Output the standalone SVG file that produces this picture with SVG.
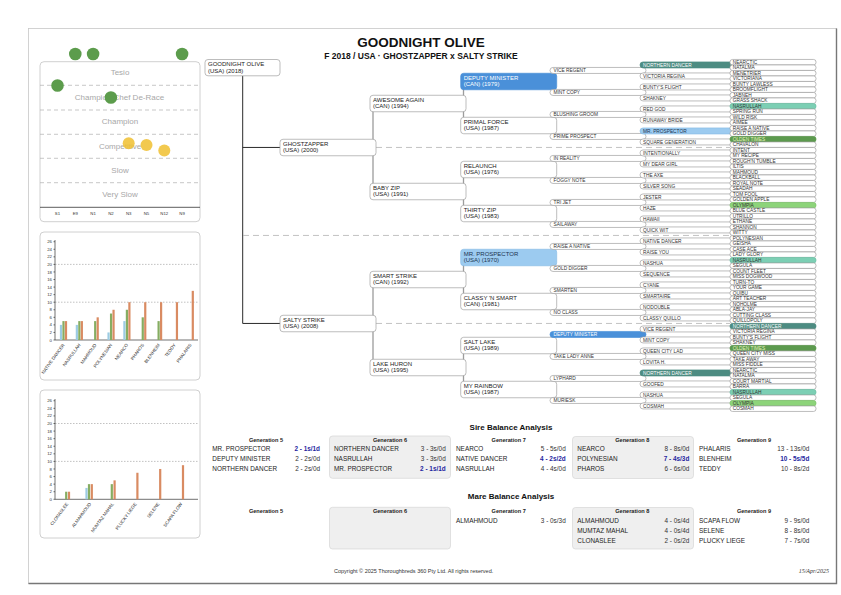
<svg xmlns="http://www.w3.org/2000/svg" width="841" height="595" viewBox="0 0 841 595">
<defs>
<style>
text{font-family:"Liberation Sans",Arial,Helvetica,sans-serif}
.bx{fill:#fff;stroke:#a0a0a0;stroke-width:0.7}
.n{font-size:6px;fill:#222}
.s{font-size:4.8px;fill:#333}
.cn{stroke:#9c9c9c;stroke-width:1.3;fill:none}
.dl{stroke:#b4b4b4;stroke-width:0.8;stroke-dasharray:6 4;fill:none}
.pl{fill:#fff;stroke:#c4c4c4;stroke-width:0.8}
.lb{font-size:8px;fill:#a8a8a8;text-anchor:middle}
.gd{stroke:#b0b0b0;stroke-width:0.7;stroke-dasharray:4 3;fill:none}
.gd2{stroke:#999;stroke-width:0.6;stroke-dasharray:1.5 1.5;fill:none}
.tk{font-size:4.3px;fill:#333}
.tr{font-size:4.3px;fill:#333;text-anchor:end}
.bl{font-size:4.5px;fill:#333;text-anchor:end}
.bb{fill:#9ccbe3}.bg{fill:#86ad62}.bo{fill:#d98b62}
.hd{font-size:5.6px;font-weight:bold;text-anchor:middle;fill:#222}
.e{font-size:6.4px;fill:#222}
.v{font-size:6.4px;fill:#333;text-anchor:end}
.vb{font-weight:bold;fill:#1f1fa0}
.gbox{fill:#efefef;stroke:#d6d6d6;stroke-width:0.7}
.hdm{fill:#4a90d9;stroke:#4a90d9}
.hmp{fill:#9ccbf0;stroke:#8bbde6}
.hnd{fill:#4d8c82;stroke:#4d8c82}
.hna{fill:#7ccfb4;stroke:#6cc0a5}
.hot{fill:#5c9a4e;stroke:#5c9a4e}
.hol{fill:#8dd47a;stroke:#7dc46a}
.tw{fill:#fff}
.tdk{fill:#1d3550}
.tot{fill:#e2f2b8}
</style>
</defs>

<!-- page frame -->
<rect x="28.5" y="28.5" width="808" height="555" fill="none" stroke="#c8c8c8" stroke-width="0.8"/>
<path d="M836.5 28.5 V583.5 H28.5" fill="none" stroke="#777" stroke-width="1.4"/>

<!-- title -->
<text x="421" y="47" font-size="13.5" font-weight="bold" text-anchor="middle" fill="#111">GOODNIGHT OLIVE</text>
<text x="421" y="58.5" font-size="8.5" font-weight="bold" text-anchor="middle" fill="#111">F 2018 / USA · GHOSTZAPPER x SALTY STRIKE</text>

<!-- Panel 1: running style chart -->
<g id="chart-style">
<rect class="pl" x="40" y="61.7" width="160" height="160" rx="4"/>
<path class="gd" d="M40 85.3H200M40 110H200M40 134.3H200M40 158.3H200M40 182.7H200"/>
<path d="M40 207.3H200" stroke="#333" stroke-width="0.8"/>
<text class="lb" x="120" y="75">Tesio</text>
<text class="lb" x="119.5" y="99.8">Champion Chef De-Race</text>
<text class="lb" x="120" y="124">Champion</text>
<text class="lb" x="120" y="148.5">Competitive</text>
<text class="lb" x="120" y="172.8">Slow</text>
<text class="lb" x="120" y="197">Very Slow</text>
<g class="tk" text-anchor="middle">
<text x="57.5" y="214.8">S1</text><text x="75.3" y="214.8">E9</text><text x="93.1" y="214.8">N1</text><text x="110.9" y="214.8">N2</text><text x="128.7" y="214.8">N3</text><text x="146.5" y="214.8">N5</text><text x="164.3" y="214.8">N12</text><text x="182.1" y="214.8">N9</text>
</g>
<g fill="#5c9c4c">
<circle cx="75.3" cy="54" r="6.3"/><circle cx="93.1" cy="54" r="6.3"/><circle cx="182.1" cy="54" r="6.3"/>
<circle cx="57.5" cy="85.5" r="6.3"/><circle cx="110.9" cy="97.5" r="6.3"/>
</g>
<g fill="#f0c030" fill-opacity="0.85">
<circle cx="128.7" cy="143.3" r="6"/><circle cx="146.5" cy="145" r="6"/><circle cx="164.3" cy="150.5" r="6"/>
</g>
</g>

<!-- Panel 2: sire bar chart -->
<g id="chart-sire">
<rect class="pl" x="40" y="232" width="160" height="148" rx="4"/>
<path class="gd2" d="M55 302.2H198M55 264.4H198"/>
<path d="M55 240V340H198M53.5 340H55M53.5 332.44H55M53.5 324.88H55M53.5 317.32H55M53.5 309.76H55M53.5 302.2H55M53.5 294.64H55M53.5 287.08H55M53.5 279.52H55M53.5 271.96H55M53.5 264.4H55M53.5 256.84H55M53.5 249.28H55M53.5 241.72H55" stroke="#333" stroke-width="0.7" fill="none"/>
<g class="tr">
<text x="52" y="341.5">0</text><text x="52" y="333.9">2</text><text x="52" y="326.4">4</text><text x="52" y="318.8">6</text><text x="52" y="311.3">8</text><text x="52" y="303.7">10</text><text x="52" y="296.1">12</text><text x="52" y="288.6">14</text><text x="52" y="281">16</text><text x="52" y="273.5">18</text><text x="52" y="265.9">20</text><text x="52" y="258.3">22</text><text x="52" y="250.8">24</text><text x="52" y="243.2">26</text>
</g>
<rect class="bb" x="59.9" y="324.88" width="2.2" height="15.12"/><rect class="bg" x="62.4" y="321.1" width="2.2" height="18.9"/><rect class="bo" x="64.9" y="321.1" width="2.2" height="18.9"/>
<rect class="bb" x="75.75" y="324.88" width="2.2" height="15.12"/><rect class="bg" x="78.25" y="321.1" width="2.2" height="18.9"/><rect class="bo" x="80.75" y="321.1" width="2.2" height="18.9"/>
<rect class="bg" x="94.1" y="321.1" width="2.2" height="18.9"/><rect class="bo" x="96.6" y="317.32" width="2.2" height="22.68"/>
<rect class="bb" x="107.45" y="332.44" width="2.2" height="7.56"/><rect class="bg" x="109.95" y="313.54" width="2.2" height="26.46"/><rect class="bo" x="112.45" y="309.76" width="2.2" height="30.24"/>
<rect class="bb" x="123.3" y="321.1" width="2.2" height="18.9"/><rect class="bg" x="125.8" y="309.76" width="2.2" height="30.24"/><rect class="bo" x="128.3" y="302.2" width="2.2" height="37.8"/>
<rect class="bg" x="141.65" y="317.32" width="2.2" height="22.68"/><rect class="bo" x="144.15" y="302.2" width="2.2" height="37.8"/>
<rect class="bg" x="157.5" y="321.1" width="2.2" height="18.9"/><rect class="bo" x="160" y="302.2" width="2.2" height="37.8"/>
<rect class="bo" x="175.85" y="302.2" width="2.2" height="37.8"/>
<rect class="bo" x="191.7" y="290.86" width="2.2" height="49.14"/>
<g class="bl">
<text transform="translate(65 345) rotate(-54)">NATIVE DANCER</text>
<text transform="translate(80.8 345) rotate(-54)">NASRULLAH</text>
<text transform="translate(96.7 345) rotate(-54)">MAHMOUD</text>
<text transform="translate(112.5 345) rotate(-54)">POLYNESIAN</text>
<text transform="translate(128.4 345) rotate(-54)">NEARCO</text>
<text transform="translate(144.2 345) rotate(-54)">PHAROS</text>
<text transform="translate(160.1 345) rotate(-54)">BLENHEIM</text>
<text transform="translate(175.9 345) rotate(-54)">TEDDY</text>
<text transform="translate(191.8 345) rotate(-54)">PHALARIS</text>
</g>
</g>

<!-- Panel 3: mare bar chart -->
<g id="chart-mare">
<rect class="pl" x="40" y="390" width="160" height="148" rx="4"/>
<path class="gd2" d="M55 461.4H198M55 423.5H198"/>
<path d="M55 399V499.3H198M53.5 499.3H55M53.5 491.72H55M53.5 484.14H55M53.5 476.56H55M53.5 468.98H55M53.5 461.4H55M53.5 453.82H55M53.5 446.24H55M53.5 438.66H55M53.5 431.08H55M53.5 423.5H55M53.5 415.92H55M53.5 408.34H55M53.5 400.76H55" stroke="#333" stroke-width="0.7" fill="none"/>
<g class="tr">
<text x="52" y="500.8">0</text><text x="52" y="493.2">2</text><text x="52" y="485.6">4</text><text x="52" y="478.1">6</text><text x="52" y="470.5">8</text><text x="52" y="462.9">10</text><text x="52" y="455.3">12</text><text x="52" y="447.7">14</text><text x="52" y="440.2">16</text><text x="52" y="432.6">18</text><text x="52" y="425">20</text><text x="52" y="417.4">22</text><text x="52" y="409.8">24</text><text x="52" y="402.3">26</text>
</g>
<rect class="bg" x="65.1" y="491.72" width="2.2" height="7.58"/><rect class="bo" x="67.9" y="491.72" width="2.2" height="7.58"/>
<rect class="bb" x="85.4" y="487.93" width="2.2" height="11.37"/><rect class="bg" x="87.9" y="484.14" width="2.2" height="15.16"/><rect class="bo" x="90.7" y="484.14" width="2.2" height="15.16"/>
<rect class="bg" x="110.7" y="484.14" width="2.2" height="15.16"/><rect class="bo" x="113.5" y="480.35" width="2.2" height="18.95"/>
<rect class="bo" x="136.3" y="472.77" width="2.2" height="26.53"/>
<rect class="bo" x="159.1" y="468.98" width="2.2" height="30.32"/>
<rect class="bo" x="181.9" y="465.19" width="2.2" height="34.11"/>
<g class="bl">
<text transform="translate(68.5 504) rotate(-54)">CLONASLEE</text>
<text transform="translate(91.3 504) rotate(-54)">ALMAHMOUD</text>
<text transform="translate(114.1 504) rotate(-54)">MUMTAZ MAHAL</text>
<text transform="translate(136.9 504) rotate(-54)">PLUCKY LIEGE</text>
<text transform="translate(159.7 504) rotate(-54)">SELENE</text>
<text transform="translate(182.5 504) rotate(-54)">SCAPA FLOW</text>
</g>
</g>

<!-- connectors -->
<g id="connectors">
<path d="M242.7 75.7V323.45M242.7 147.45H280M242.7 323.45H280" stroke="#2a2a2a" stroke-width="1" fill="none"/>
<path class="dl" d="M243 235.45H730M376 147.45H730M376 323.45H730"/>
<path class="cn" d="M373 103.45V191.45M373 279.45V367.45"/>
<path class="cn" d="M463.5 81.45V125.45M463.5 169.45V213.45M463.5 257.45V301.45M463.5 345.45V389.45"/>
<path class="cn" d="M553 70.45V92.45M553 114.45V136.45M553 158.45V180.45M553 202.45V224.45M553 246.45V268.45M553 290.45V312.45M553 334.45V356.45M553 378.45V400.45"/>
<path class="cn" d="M643 64.95V75.95M643 86.95V97.95M643 108.95V119.95M643 130.95V141.95M643 152.95V163.95M643 174.95V185.95M643 196.95V207.95M643 218.95V229.95M643 240.95V251.95M643 262.95V273.95M643 284.95V295.95M643 306.95V317.95M643 328.95V339.95M643 350.95V361.95M643 372.95V383.95M643 394.95V405.95"/>
</g>

<!-- generation 0 -->
<g id="n-goodnight-olive" transform="translate(205 59.5)"><rect class="bx" width="75" height="16.3" rx="3"/><text class="n" x="3" y="6.3" font-size="5.8">GOODNIGHT OLIVE</text><text class="n" x="3" y="13.2" font-size="5.8">(USA) (2018)</text></g>

<!-- generation 1 -->
<g id="n-ghostzapper" transform="translate(280 139.25)"><rect class="bx" width="96" height="16.5" rx="3"/><text class="n" x="3" y="6.3">GHOSTZAPPER</text><text class="n" x="3" y="13.2">(USA) (2000)</text></g>
<g id="n-salty-strike" transform="translate(280 315.25)"><rect class="bx" width="96" height="16.5" rx="3"/><text class="n" x="3" y="6.3">SALTY STRIKE</text><text class="n" x="3" y="13.2">(USA) (2008)</text></g>

<!-- generation 2 -->
<g id="n-awesome-again" transform="translate(370 95.25)"><rect class="bx" width="96" height="16.5" rx="3"/><text class="n" x="3" y="6.3">AWESOME AGAIN</text><text class="n" x="3" y="13.2">(CAN) (1994)</text></g>
<g id="n-baby-zip" transform="translate(370 183.25)"><rect class="bx" width="96" height="16.5" rx="3"/><text class="n" x="3" y="6.3">BABY ZIP</text><text class="n" x="3" y="13.2">(USA) (1991)</text></g>
<g id="n-smart-strike" transform="translate(370 271.25)"><rect class="bx" width="96" height="16.5" rx="3"/><text class="n" x="3" y="6.3">SMART STRIKE</text><text class="n" x="3" y="13.2">(CAN) (1992)</text></g>
<g id="n-lake-huron" transform="translate(370 359.25)"><rect class="bx" width="96" height="16.5" rx="3"/><text class="n" x="3" y="6.3">LAKE HURON</text><text class="n" x="3" y="13.2">(USA) (1995)</text></g>

<!-- generation 3 -->
<g id="n-deputy-minister" transform="translate(460.7 73.25)"><rect class="bx hdm" width="96" height="16.5" rx="3"/><text class="n tw" x="3" y="6.3">DEPUTY MINISTER</text><text class="n tw" x="3" y="13.2">(CAN) (1979)</text></g>
<g id="n-primal-force" transform="translate(460.7 117.25)"><rect class="bx" width="96" height="16.5" rx="3"/><text class="n" x="3" y="6.3">PRIMAL FORCE</text><text class="n" x="3" y="13.2">(USA) (1987)</text></g>
<g id="n-relaunch" transform="translate(460.7 161.25)"><rect class="bx" width="96" height="16.5" rx="3"/><text class="n" x="3" y="6.3">RELAUNCH</text><text class="n" x="3" y="13.2">(USA) (1976)</text></g>
<g id="n-thirty-zip" transform="translate(460.7 205.25)"><rect class="bx" width="96" height="16.5" rx="3"/><text class="n" x="3" y="6.3">THIRTY ZIP</text><text class="n" x="3" y="13.2">(USA) (1983)</text></g>
<g id="n-mr-prospector" transform="translate(460.7 249.25)"><rect class="bx hmp" width="96" height="16.5" rx="3"/><text class="n tdk" x="3" y="6.3">MR. PROSPECTOR</text><text class="n tdk" x="3" y="13.2">(USA) (1970)</text></g>
<g id="n-classy-n-smart" transform="translate(460.7 293.25)"><rect class="bx" width="96" height="16.5" rx="3"/><text class="n" x="3" y="6.3">CLASSY 'N SMART</text><text class="n" x="3" y="13.2">(CAN) (1981)</text></g>
<g id="n-salt-lake" transform="translate(460.7 337.25)"><rect class="bx" width="96" height="16.5" rx="3"/><text class="n" x="3" y="6.3">SALT LAKE</text><text class="n" x="3" y="13.2">(USA) (1989)</text></g>
<g id="n-my-rainbow" transform="translate(460.7 381.25)"><rect class="bx" width="96" height="16.5" rx="3"/><text class="n" x="3" y="6.3">MY RAINBOW</text><text class="n" x="3" y="13.2">(USA) (1987)</text></g>

<!-- generation 4 -->
<g id="g4-00" transform="translate(550 67.45)"><rect class="bx" width="96" height="6" rx="3"/><text class="s" x="3.5" y="4.7">VICE REGENT</text></g>
<g id="g4-01" transform="translate(550 89.45)"><rect class="bx" width="96" height="6" rx="3"/><text class="s" x="3.5" y="4.7">MINT COPY</text></g>
<g id="g4-02" transform="translate(550 111.45)"><rect class="bx" width="96" height="6" rx="3"/><text class="s" x="3.5" y="4.7">BLUSHING GROOM</text></g>
<g id="g4-03" transform="translate(550 133.45)"><rect class="bx" width="96" height="6" rx="3"/><text class="s" x="3.5" y="4.7">PRIME PROSPECT</text></g>
<g id="g4-04" transform="translate(550 155.45)"><rect class="bx" width="96" height="6" rx="3"/><text class="s" x="3.5" y="4.7">IN REALITY</text></g>
<g id="g4-05" transform="translate(550 177.45)"><rect class="bx" width="96" height="6" rx="3"/><text class="s" x="3.5" y="4.7">FOGGY NOTE</text></g>
<g id="g4-06" transform="translate(550 199.45)"><rect class="bx" width="96" height="6" rx="3"/><text class="s" x="3.5" y="4.7">TRI JET</text></g>
<g id="g4-07" transform="translate(550 221.45)"><rect class="bx" width="96" height="6" rx="3"/><text class="s" x="3.5" y="4.7">SAILAWAY</text></g>
<g id="g4-08" transform="translate(550 243.45)"><rect class="bx" width="96" height="6" rx="3"/><text class="s" x="3.5" y="4.7">RAISE A NATIVE</text></g>
<g id="g4-09" transform="translate(550 265.45)"><rect class="bx" width="96" height="6" rx="3"/><text class="s" x="3.5" y="4.7">GOLD DIGGER</text></g>
<g id="g4-10" transform="translate(550 287.45)"><rect class="bx" width="96" height="6" rx="3"/><text class="s" x="3.5" y="4.7">SMARTEN</text></g>
<g id="g4-11" transform="translate(550 309.45)"><rect class="bx" width="96" height="6" rx="3"/><text class="s" x="3.5" y="4.7">NO CLASS</text></g>
<g id="g4-12" transform="translate(550 331.45)"><rect class="bx hdm" width="96" height="6" rx="3"/><text class="s tw" x="3.5" y="4.7">DEPUTY MINISTER</text></g>
<g id="g4-13" transform="translate(550 353.45)"><rect class="bx" width="96" height="6" rx="3"/><text class="s" x="3.5" y="4.7">TAKE LADY ANNE</text></g>
<g id="g4-14" transform="translate(550 375.45)"><rect class="bx" width="96" height="6" rx="3"/><text class="s" x="3.5" y="4.7">LYPHARD</text></g>
<g id="g4-15" transform="translate(550 397.45)"><rect class="bx" width="96" height="6" rx="3"/><text class="s" x="3.5" y="4.7">MURIESK</text></g>

<!-- generation 5 -->
<g id="g5-00" transform="translate(640 61.95)"><rect class="bx hnd" width="96" height="6" rx="3"/><text class="s tw" x="3" y="4.7">NORTHERN DANCER</text></g>
<g id="g5-01" transform="translate(640 72.95)"><rect class="bx" width="96" height="6" rx="3"/><text class="s" x="3" y="4.7">VICTORIA REGINA</text></g>
<g id="g5-02" transform="translate(640 83.95)"><rect class="bx" width="96" height="6" rx="3"/><text class="s" x="3" y="4.7">BUNTY'S FLIGHT</text></g>
<g id="g5-03" transform="translate(640 94.95)"><rect class="bx" width="96" height="6" rx="3"/><text class="s" x="3" y="4.7">SHAKNEY</text></g>
<g id="g5-04" transform="translate(640 105.95)"><rect class="bx" width="96" height="6" rx="3"/><text class="s" x="3" y="4.7">RED GOD</text></g>
<g id="g5-05" transform="translate(640 116.95)"><rect class="bx" width="96" height="6" rx="3"/><text class="s" x="3" y="4.7">RUNAWAY BRIDE</text></g>
<g id="g5-06" transform="translate(640 127.95)"><rect class="bx hmp" width="96" height="6" rx="3"/><text class="s tdk" x="3" y="4.7">MR. PROSPECTOR</text></g>
<g id="g5-07" transform="translate(640 138.95)"><rect class="bx" width="96" height="6" rx="3"/><text class="s" x="3" y="4.7">SQUARE GENERATION</text></g>
<g id="g5-08" transform="translate(640 149.95)"><rect class="bx" width="96" height="6" rx="3"/><text class="s" x="3" y="4.7">INTENTIONALLY</text></g>
<g id="g5-09" transform="translate(640 160.95)"><rect class="bx" width="96" height="6" rx="3"/><text class="s" x="3" y="4.7">MY DEAR GIRL</text></g>
<g id="g5-10" transform="translate(640 171.95)"><rect class="bx" width="96" height="6" rx="3"/><text class="s" x="3" y="4.7">THE AXE</text></g>
<g id="g5-11" transform="translate(640 182.95)"><rect class="bx" width="96" height="6" rx="3"/><text class="s" x="3" y="4.7">SILVER SONG</text></g>
<g id="g5-12" transform="translate(640 193.95)"><rect class="bx" width="96" height="6" rx="3"/><text class="s" x="3" y="4.7">JESTER</text></g>
<g id="g5-13" transform="translate(640 204.95)"><rect class="bx" width="96" height="6" rx="3"/><text class="s" x="3" y="4.7">HAZE</text></g>
<g id="g5-14" transform="translate(640 215.95)"><rect class="bx" width="96" height="6" rx="3"/><text class="s" x="3" y="4.7">HAWAII</text></g>
<g id="g5-15" transform="translate(640 226.95)"><rect class="bx" width="96" height="6" rx="3"/><text class="s" x="3" y="4.7">QUICK WIT</text></g>
<g id="g5-16" transform="translate(640 237.95)"><rect class="bx" width="96" height="6" rx="3"/><text class="s" x="3" y="4.7">NATIVE DANCER</text></g>
<g id="g5-17" transform="translate(640 248.95)"><rect class="bx" width="96" height="6" rx="3"/><text class="s" x="3" y="4.7">RAISE YOU</text></g>
<g id="g5-18" transform="translate(640 259.95)"><rect class="bx" width="96" height="6" rx="3"/><text class="s" x="3" y="4.7">NASHUA</text></g>
<g id="g5-19" transform="translate(640 270.95)"><rect class="bx" width="96" height="6" rx="3"/><text class="s" x="3" y="4.7">SEQUENCE</text></g>
<g id="g5-20" transform="translate(640 281.95)"><rect class="bx" width="96" height="6" rx="3"/><text class="s" x="3" y="4.7">CYANE</text></g>
<g id="g5-21" transform="translate(640 292.95)"><rect class="bx" width="96" height="6" rx="3"/><text class="s" x="3" y="4.7">SMARTAIRE</text></g>
<g id="g5-22" transform="translate(640 303.95)"><rect class="bx" width="96" height="6" rx="3"/><text class="s" x="3" y="4.7">NODOUBLE</text></g>
<g id="g5-23" transform="translate(640 314.95)"><rect class="bx" width="96" height="6" rx="3"/><text class="s" x="3" y="4.7">CLASSY QUILLO</text></g>
<g id="g5-24" transform="translate(640 325.95)"><rect class="bx" width="96" height="6" rx="3"/><text class="s" x="3" y="4.7">VICE REGENT</text></g>
<g id="g5-25" transform="translate(640 336.95)"><rect class="bx" width="96" height="6" rx="3"/><text class="s" x="3" y="4.7">MINT COPY</text></g>
<g id="g5-26" transform="translate(640 347.95)"><rect class="bx" width="96" height="6" rx="3"/><text class="s" x="3" y="4.7">QUEEN CITY LAD</text></g>
<g id="g5-27" transform="translate(640 358.95)"><rect class="bx" width="96" height="6" rx="3"/><text class="s" x="3" y="4.7">LOVITA H.</text></g>
<g id="g5-28" transform="translate(640 369.95)"><rect class="bx hnd" width="96" height="6" rx="3"/><text class="s tw" x="3" y="4.7">NORTHERN DANCER</text></g>
<g id="g5-29" transform="translate(640 380.95)"><rect class="bx" width="96" height="6" rx="3"/><text class="s" x="3" y="4.7">GOOFED</text></g>
<g id="g5-30" transform="translate(640 391.95)"><rect class="bx" width="96" height="6" rx="3"/><text class="s" x="3" y="4.7">NASHUA</text></g>
<g id="g5-31" transform="translate(640 402.95)"><rect class="bx" width="96" height="6" rx="3"/><text class="s" x="3" y="4.7">COSMAH</text></g>

<!-- generation 6 -->
<g id="g6-00" transform="translate(730 59.45)"><rect class="bx" width="86" height="5.5" rx="2.5"/><text class="s" x="2.7" y="4.4">NEARCTIC</text></g>
<g id="g6-01" transform="translate(730 64.95)"><rect class="bx" width="86" height="5.5" rx="2.5"/><text class="s" x="2.7" y="4.4">NATALMA</text></g>
<g id="g6-02" transform="translate(730 70.45)"><rect class="bx" width="86" height="5.5" rx="2.5"/><text class="s" x="2.7" y="4.4">MENETRIER</text></g>
<g id="g6-03" transform="translate(730 75.95)"><rect class="bx" width="86" height="5.5" rx="2.5"/><text class="s" x="2.7" y="4.4">VICTORIANA</text></g>
<g id="g6-04" transform="translate(730 81.45)"><rect class="bx" width="86" height="5.5" rx="2.5"/><text class="s" x="2.7" y="4.4">BUNTY LAWLESS</text></g>
<g id="g6-05" transform="translate(730 86.95)"><rect class="bx" width="86" height="5.5" rx="2.5"/><text class="s" x="2.7" y="4.4">BROOMFLIGHT</text></g>
<g id="g6-06" transform="translate(730 92.45)"><rect class="bx" width="86" height="5.5" rx="2.5"/><text class="s" x="2.7" y="4.4">JABNEH</text></g>
<g id="g6-07" transform="translate(730 97.95)"><rect class="bx" width="86" height="5.5" rx="2.5"/><text class="s" x="2.7" y="4.4">GRASS SHACK</text></g>
<g id="g6-08" transform="translate(730 103.45)"><rect class="bx hna" width="86" height="5.5" rx="2.5"/><text class="s" x="2.7" y="4.4">NASRULLAH</text></g>
<g id="g6-09" transform="translate(730 108.95)"><rect class="bx" width="86" height="5.5" rx="2.5"/><text class="s" x="2.7" y="4.4">SPRING RUN</text></g>
<g id="g6-10" transform="translate(730 114.45)"><rect class="bx" width="86" height="5.5" rx="2.5"/><text class="s" x="2.7" y="4.4">WILD RISK</text></g>
<g id="g6-11" transform="translate(730 119.95)"><rect class="bx" width="86" height="5.5" rx="2.5"/><text class="s" x="2.7" y="4.4">AIMEE</text></g>
<g id="g6-12" transform="translate(730 125.45)"><rect class="bx" width="86" height="5.5" rx="2.5"/><text class="s" x="2.7" y="4.4">RAISE A NATIVE</text></g>
<g id="g6-13" transform="translate(730 130.95)"><rect class="bx" width="86" height="5.5" rx="2.5"/><text class="s" x="2.7" y="4.4">GOLD DIGGER</text></g>
<g id="g6-14" transform="translate(730 136.45)"><rect class="bx hot" width="86" height="5.5" rx="2.5"/><text class="s tot" x="2.7" y="4.4">OLDEN TIMES</text></g>
<g id="g6-15" transform="translate(730 141.95)"><rect class="bx" width="86" height="5.5" rx="2.5"/><text class="s" x="2.7" y="4.4">CHAVALON</text></g>
<g id="g6-16" transform="translate(730 147.45)"><rect class="bx" width="86" height="5.5" rx="2.5"/><text class="s" x="2.7" y="4.4">INTENT</text></g>
<g id="g6-17" transform="translate(730 152.95)"><rect class="bx" width="86" height="5.5" rx="2.5"/><text class="s" x="2.7" y="4.4">MY RECIPE</text></g>
<g id="g6-18" transform="translate(730 158.45)"><rect class="bx" width="86" height="5.5" rx="2.5"/><text class="s" x="2.7" y="4.4">ROUGH'N TUMBLE</text></g>
<g id="g6-19" transform="translate(730 163.95)"><rect class="bx" width="86" height="5.5" rx="2.5"/><text class="s" x="2.7" y="4.4">ILTIS</text></g>
<g id="g6-20" transform="translate(730 169.45)"><rect class="bx" width="86" height="5.5" rx="2.5"/><text class="s" x="2.7" y="4.4">MAHMOUD</text></g>
<g id="g6-21" transform="translate(730 174.95)"><rect class="bx" width="86" height="5.5" rx="2.5"/><text class="s" x="2.7" y="4.4">BLACKBALL</text></g>
<g id="g6-22" transform="translate(730 180.45)"><rect class="bx" width="86" height="5.5" rx="2.5"/><text class="s" x="2.7" y="4.4">ROYAL NOTE</text></g>
<g id="g6-23" transform="translate(730 185.95)"><rect class="bx" width="86" height="5.5" rx="2.5"/><text class="s" x="2.7" y="4.4">SEADAH</text></g>
<g id="g6-24" transform="translate(730 191.45)"><rect class="bx" width="86" height="5.5" rx="2.5"/><text class="s" x="2.7" y="4.4">TOM FOOL</text></g>
<g id="g6-25" transform="translate(730 196.95)"><rect class="bx" width="86" height="5.5" rx="2.5"/><text class="s" x="2.7" y="4.4">GOLDEN APPLE</text></g>
<g id="g6-26" transform="translate(730 202.45)"><rect class="bx hol" width="86" height="5.5" rx="2.5"/><text class="s" x="2.7" y="4.4">OLYMPIA</text></g>
<g id="g6-27" transform="translate(730 207.95)"><rect class="bx" width="86" height="5.5" rx="2.5"/><text class="s" x="2.7" y="4.4">BLUE CASTLE</text></g>
<g id="g6-28" transform="translate(730 213.45)"><rect class="bx" width="86" height="5.5" rx="2.5"/><text class="s" x="2.7" y="4.4">UTRILLO</text></g>
<g id="g6-29" transform="translate(730 218.95)"><rect class="bx" width="86" height="5.5" rx="2.5"/><text class="s" x="2.7" y="4.4">ETHANE</text></g>
<g id="g6-30" transform="translate(730 224.45)"><rect class="bx" width="86" height="5.5" rx="2.5"/><text class="s" x="2.7" y="4.4">SHANNON</text></g>
<g id="g6-31" transform="translate(730 229.95)"><rect class="bx" width="86" height="5.5" rx="2.5"/><text class="s" x="2.7" y="4.4">WITTY</text></g>
<g id="g6-32" transform="translate(730 235.45)"><rect class="bx" width="86" height="5.5" rx="2.5"/><text class="s" x="2.7" y="4.4">POLYNESIAN</text></g>
<g id="g6-33" transform="translate(730 240.95)"><rect class="bx" width="86" height="5.5" rx="2.5"/><text class="s" x="2.7" y="4.4">GEISHA</text></g>
<g id="g6-34" transform="translate(730 246.45)"><rect class="bx" width="86" height="5.5" rx="2.5"/><text class="s" x="2.7" y="4.4">CASE ACE</text></g>
<g id="g6-35" transform="translate(730 251.95)"><rect class="bx" width="86" height="5.5" rx="2.5"/><text class="s" x="2.7" y="4.4">LADY GLORY</text></g>
<g id="g6-36" transform="translate(730 257.45)"><rect class="bx hna" width="86" height="5.5" rx="2.5"/><text class="s" x="2.7" y="4.4">NASRULLAH</text></g>
<g id="g6-37" transform="translate(730 262.95)"><rect class="bx" width="86" height="5.5" rx="2.5"/><text class="s" x="2.7" y="4.4">SEGULA</text></g>
<g id="g6-38" transform="translate(730 268.45)"><rect class="bx" width="86" height="5.5" rx="2.5"/><text class="s" x="2.7" y="4.4">COUNT FLEET</text></g>
<g id="g6-39" transform="translate(730 273.95)"><rect class="bx" width="86" height="5.5" rx="2.5"/><text class="s" x="2.7" y="4.4">MISS DOGWOOD</text></g>
<g id="g6-40" transform="translate(730 279.45)"><rect class="bx" width="86" height="5.5" rx="2.5"/><text class="s" x="2.7" y="4.4">TURN-TO</text></g>
<g id="g6-41" transform="translate(730 284.95)"><rect class="bx" width="86" height="5.5" rx="2.5"/><text class="s" x="2.7" y="4.4">YOUR GAME</text></g>
<g id="g6-42" transform="translate(730 290.45)"><rect class="bx" width="86" height="5.5" rx="2.5"/><text class="s" x="2.7" y="4.4">QUIBU</text></g>
<g id="g6-43" transform="translate(730 295.95)"><rect class="bx" width="86" height="5.5" rx="2.5"/><text class="s" x="2.7" y="4.4">ART TEACHER</text></g>
<g id="g6-44" transform="translate(730 301.45)"><rect class="bx" width="86" height="5.5" rx="2.5"/><text class="s" x="2.7" y="4.4">NOHOLME</text></g>
<g id="g6-45" transform="translate(730 306.95)"><rect class="bx" width="86" height="5.5" rx="2.5"/><text class="s" x="2.7" y="4.4">ABLA-JAY</text></g>
<g id="g6-46" transform="translate(730 312.45)"><rect class="bx" width="86" height="5.5" rx="2.5"/><text class="s" x="2.7" y="4.4">CUTTING CLASS</text></g>
<g id="g6-47" transform="translate(730 317.95)"><rect class="bx" width="86" height="5.5" rx="2.5"/><text class="s" x="2.7" y="4.4">QUILLOPOLY</text></g>
<g id="g6-48" transform="translate(730 323.45)"><rect class="bx hnd" width="86" height="5.5" rx="2.5"/><text class="s tw" x="2.7" y="4.4">NORTHERN DANCER</text></g>
<g id="g6-49" transform="translate(730 328.95)"><rect class="bx" width="86" height="5.5" rx="2.5"/><text class="s" x="2.7" y="4.4">VICTORIA REGINA</text></g>
<g id="g6-50" transform="translate(730 334.45)"><rect class="bx" width="86" height="5.5" rx="2.5"/><text class="s" x="2.7" y="4.4">BUNTY'S FLIGHT</text></g>
<g id="g6-51" transform="translate(730 339.95)"><rect class="bx" width="86" height="5.5" rx="2.5"/><text class="s" x="2.7" y="4.4">SHAKNEY</text></g>
<g id="g6-52" transform="translate(730 345.45)"><rect class="bx hot" width="86" height="5.5" rx="2.5"/><text class="s tot" x="2.7" y="4.4">OLDEN TIMES</text></g>
<g id="g6-53" transform="translate(730 350.95)"><rect class="bx" width="86" height="5.5" rx="2.5"/><text class="s" x="2.7" y="4.4">QUEEN CITY MISS</text></g>
<g id="g6-54" transform="translate(730 356.45)"><rect class="bx" width="86" height="5.5" rx="2.5"/><text class="s" x="2.7" y="4.4">TAKE AWAY</text></g>
<g id="g6-55" transform="translate(730 361.95)"><rect class="bx" width="86" height="5.5" rx="2.5"/><text class="s" x="2.7" y="4.4">MISS FIDDLE</text></g>
<g id="g6-56" transform="translate(730 367.45)"><rect class="bx" width="86" height="5.5" rx="2.5"/><text class="s" x="2.7" y="4.4">NEARCTIC</text></g>
<g id="g6-57" transform="translate(730 372.95)"><rect class="bx" width="86" height="5.5" rx="2.5"/><text class="s" x="2.7" y="4.4">NATALMA</text></g>
<g id="g6-58" transform="translate(730 378.45)"><rect class="bx" width="86" height="5.5" rx="2.5"/><text class="s" x="2.7" y="4.4">COURT MARTIAL</text></g>
<g id="g6-59" transform="translate(730 383.95)"><rect class="bx" width="86" height="5.5" rx="2.5"/><text class="s" x="2.7" y="4.4">BARRA</text></g>
<g id="g6-60" transform="translate(730 389.45)"><rect class="bx hna" width="86" height="5.5" rx="2.5"/><text class="s" x="2.7" y="4.4">NASRULLAH</text></g>
<g id="g6-61" transform="translate(730 394.95)"><rect class="bx" width="86" height="5.5" rx="2.5"/><text class="s" x="2.7" y="4.4">SEGULA</text></g>
<g id="g6-62" transform="translate(730 400.45)"><rect class="bx hol" width="86" height="5.5" rx="2.5"/><text class="s" x="2.7" y="4.4">OLYMPIA</text></g>
<g id="g6-63" transform="translate(730 405.95)"><rect class="bx" width="86" height="5.5" rx="2.5"/><text class="s" x="2.7" y="4.4">COSMAH</text></g>

<!-- Sire balance analysis -->
<g id="sire-balance">
<text x="511" y="429.5" font-size="8" font-weight="bold" text-anchor="middle" fill="#111">Sire Balance Analysis</text>
<rect class="gbox" x="329.5" y="436" width="121" height="42.3" rx="3"/>
<rect class="gbox" x="572.5" y="436.5" width="121" height="42" rx="3"/>
<text class="hd" x="266" y="441.5">Generation 5</text>
<text class="hd" x="390" y="441.5">Generation 6</text>
<text class="hd" x="508.7" y="441.5">Generation 7</text>
<text class="hd" x="632.3" y="441.5">Generation 8</text>
<text class="hd" x="754" y="441.5">Generation 9</text>
<text class="e" x="212.3" y="451.3">MR. PROSPECTOR</text><text class="v vb" x="320" y="451.3">2 - 1s/1d</text>
<text class="e" x="212.3" y="461.1">DEPUTY MINISTER</text><text class="v" x="320" y="461.1">2 - 2s/0d</text>
<text class="e" x="212.3" y="470.9">NORTHERN DANCER</text><text class="v" x="320" y="470.9">2 - 2s/0d</text>
<text class="e" x="334" y="451.3">NORTHERN DANCER</text><text class="v" x="445.7" y="451.3">3 - 3s/0d</text>
<text class="e" x="334" y="461.1">NASRULLAH</text><text class="v" x="445.7" y="461.1">3 - 3s/0d</text>
<text class="e" x="334" y="470.9">MR. PROSPECTOR</text><text class="v vb" x="445.7" y="470.9">2 - 1s/1d</text>
<text class="e" x="456" y="451.3">NEARCO</text><text class="v" x="565.7" y="451.3">5 - 5s/0d</text>
<text class="e" x="456" y="461.1">NATIVE DANCER</text><text class="v vb" x="565.7" y="461.1">4 - 2s/2d</text>
<text class="e" x="456" y="470.9">NASRULLAH</text><text class="v" x="565.7" y="470.9">4 - 4s/0d</text>
<text class="e" x="577.3" y="451.3">NEARCO</text><text class="v" x="689.3" y="451.3">8 - 8s/0d</text>
<text class="e" x="577.3" y="461.1">POLYNESIAN</text><text class="v vb" x="689.3" y="461.1">7 - 4s/3d</text>
<text class="e" x="577.3" y="470.9">PHAROS</text><text class="v" x="689.3" y="470.9">6 - 6s/0d</text>
<text class="e" x="699" y="451.3">PHALARIS</text><text class="v" x="809.3" y="451.3">13 - 13s/0d</text>
<text class="e" x="699" y="461.1">BLENHEIM</text><text class="v vb" x="809.3" y="461.1">10 - 5s/5d</text>
<text class="e" x="699" y="470.9">TEDDY</text><text class="v" x="809.3" y="470.9">10 - 8s/2d</text>
</g>

<!-- Mare balance analysis -->
<g id="mare-balance">
<text x="511" y="499" font-size="8" font-weight="bold" text-anchor="middle" fill="#111">Mare Balance Analysis</text>
<rect class="gbox" x="329.5" y="507.3" width="121" height="41.7" rx="3"/>
<rect class="gbox" x="572.5" y="507.5" width="121" height="41.5" rx="3"/>
<text class="hd" x="266" y="513">Generation 5</text>
<text class="hd" x="390" y="513">Generation 6</text>
<text class="hd" x="508.7" y="513">Generation 7</text>
<text class="hd" x="632.3" y="513">Generation 8</text>
<text class="hd" x="754" y="513">Generation 9</text>
<text class="e" x="456" y="523.2">ALMAHMOUD</text><text class="v" x="565.7" y="523.2">3 - 0s/3d</text>
<text class="e" x="577.3" y="523.2">ALMAHMOUD</text><text class="v" x="689.3" y="523.2">4 - 0s/4d</text>
<text class="e" x="577.3" y="533">MUMTAZ MAHAL</text><text class="v" x="689.3" y="533">4 - 0s/4d</text>
<text class="e" x="577.3" y="542.8">CLONASLEE</text><text class="v" x="689.3" y="542.8">2 - 0s/2d</text>
<text class="e" x="699" y="523.2">SCAPA FLOW</text><text class="v" x="809.3" y="523.2">9 - 9s/0d</text>
<text class="e" x="699" y="533">SELENE</text><text class="v" x="809.3" y="533">8 - 8s/0d</text>
<text class="e" x="699" y="542.8">PLUCKY LIEGE</text><text class="v" x="809.3" y="542.8">7 - 7s/0d</text>
</g>

<!-- footer -->
<text x="334" y="572.5" font-size="5.5" fill="#333">Copyright © 2025 Thoroughbreds 360 Pty Ltd. All rights reserved.</text>
<text x="829" y="572.5" font-size="6" font-style="italic" text-anchor="end" fill="#333" style="font-family:'Liberation Serif','Times New Roman',serif">15/Apr/2025</text>
</svg>
